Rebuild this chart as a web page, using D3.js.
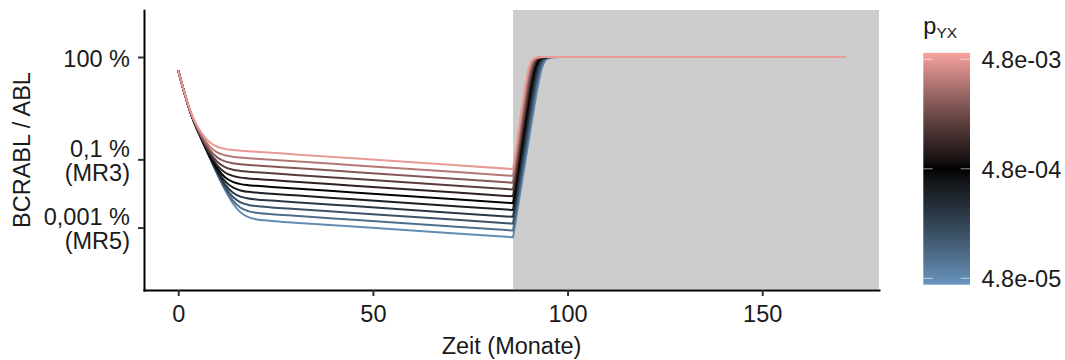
<!DOCTYPE html>
<html>
<head>
<meta charset="utf-8">
<script src="https://cdn.jsdelivr.net/npm/d3@7"></script>
<style>
  html, body { margin: 0; padding: 0; background: #ffffff; }
  svg { display: block; font-family: "Liberation Sans", Arial, Helvetica, sans-serif; }
</style>
</head>
<body>
<svg id="chart" width="1065" height="360"></svg>
<script>
// Time points (months) at which the BCR-ABL/ABL ratio is given
const months = [0, 1, 2, 3, 4, 6, 8, 10, 12, 14, 16, 18, 20, 24, 30, 45, 86,
                87, 88, 89, 90, 91, 92, 93, 94, 95, 96, 98, 171.5];

// Parameter value of each trajectory
const pYX = [4.8e-5, 7.6e-5, 1.2e-4, 1.9e-4, 3.0e-4, 4.8e-4, 7.6e-4, 1.2e-3, 1.9e-3, 3.0e-3, 4.8e-3];

// BCR-ABL / ABL in percent, one array per pYX value
const pct_p01 = [40.6, 15.2, 6.10, 2.62, 1.285, 0.3824, 0.1181, 0.03746, 0.01276, 0.005167, 0.002790, 0.002029, 0.001754, 0.001564, 0.001394, 0.001070, 0.0005185,
                 0.002636, 0.01340, 0.06808, 0.3447, 1.727, 8.20, 31.2, 69.8, 92.1, 98.35, 99.94, 100];
const pct_p02 = [40.6, 15.2, 6.10, 2.62, 1.285, 0.3824, 0.1193, 0.03862, 0.01389, 0.006246, 0.003823, 0.003036, 0.002725, 0.002470, 0.002209, 0.001696, 0.0008218,
                 0.004266, 0.02213, 0.1144, 0.5907, 2.991, 13.79, 45.33, 81.1, 95.7, 99.14, 99.97, 100];
const pct_p03 = [40.6, 15.2, 6.10, 2.62, 1.285, 0.3850, 0.1213, 0.04050, 0.01564, 0.007970, 0.005491, 0.004620, 0.004275, 0.003902, 0.003501, 0.002688, 0.001302,
                 0.006898, 0.03650, 0.1927, 1.0115, 5.131, 22.25, 60.23, 88.9, 97.7, 99.56, 99.99, 100];
const pct_p04 = [40.6, 15.2, 6.10, 2.62, 1.294, 0.3876, 0.1242, 0.04348, 0.01846, 0.01070, 0.008079, 0.007152, 0.006706, 0.006183, 0.005548, 0.004260, 0.002064,
                 0.01115, 0.06022, 0.3241, 1.726, 8.666, 33.88, 73.45, 93.73, 98.78, 99.77, 99.99, 100];
const pct_p05 = [40.6, 15.2, 6.10, 2.62, 1.298, 0.3929, 0.1289, 0.04797, 0.02293, 0.01502, 0.01225, 0.01115, 0.01059, 0.009799, 0.008794, 0.006752, 0.003271,
                 0.01804, 0.0993, 0.5450, 2.930, 14.26, 47.82, 83.47, 96.53, 99.35, 99.88, 100, 100];
const pct_p06 = [40.6, 15.2, 6.10, 2.63, 1.307, 0.4009, 0.1366, 0.05528, 0.02996, 0.02186, 0.01877, 0.01748, 0.01673, 0.01553, 0.01394, 0.01070, 0.005185,
                 0.02917, 0.1638, 0.9141, 4.931, 22.58, 62.13, 90.22, 98.11, 99.66, 99.94, 100, 100];
const pct_p07 = [40.6, 15.2, 6.10, 2.65, 1.320, 0.4147, 0.1486, 0.06683, 0.04119, 0.03271, 0.02915, 0.02753, 0.02643, 0.02461, 0.02209, 0.01696, 0.008218,
                 0.04718, 0.2701, 1.530, 8.190, 33.85, 74.6, 94.4, 98.98, 99.82, 99.97, 100, 100];
const pct_p08 = [40.6, 15.2, 6.14, 2.67, 1.338, 0.4318, 0.1673, 0.08531, 0.05917, 0.04979, 0.04574, 0.04348, 0.04175, 0.03902, 0.03501, 0.02688, 0.01302,
                 0.07624, 0.4448, 2.550, 13.29, 47.30, 84.0, 96.85, 99.45, 99.9, 100, 100, 100];
const pct_p09 = [40.6, 15.2, 6.18, 2.71, 1.374, 0.4651, 0.1975, 0.1145, 0.08706, 0.07704, 0.07176, 0.06867, 0.06615, 0.06183, 0.05548, 0.04260, 0.02064,
                 0.1233, 0.7321, 4.221, 20.85, 61.15, 90.39, 98.25, 99.70, 99.95, 100, 100, 100];
const pct_p10 = [40.6, 15.3, 6.27, 2.76, 1.422, 0.5149, 0.2453, 0.1607, 0.1320, 0.1200, 0.1129, 0.1085, 0.1049, 0.09799, 0.08794, 0.06752, 0.03271,
                 0.1992, 1.203, 6.911, 31.16, 73.41, 94.39, 99.04, 99.84, 99.97, 100, 100, 100];
const pct_p11 = [40.6, 15.4, 6.33, 2.84, 1.506, 0.5916, 0.3205, 0.2339, 0.2022, 0.1884, 0.1790, 0.1719, 0.1662, 0.1553, 0.1394, 0.1070, 0.05185,
                 0.3219, 1.970, 11.11, 43.76, 82.88, 96.79, 99.47, 99.91, 99.99, 100, 100, 100];

const seriesValues = [pct_p01, pct_p02, pct_p03, pct_p04, pct_p05, pct_p06,
                      pct_p07, pct_p08, pct_p09, pct_p10, pct_p11];

// Axis ticks and labels
const xTicks = [0, 50, 100, 150];
const yTicks = [100, 0.1, 0.001];
const yTickLabels = [["100 %"], ["0,1 %", "(MR3)"], ["0,001 %", "(MR5)"]];
const legendBreaks = [4.8e-5, 4.8e-4, 4.8e-3];
const legendLabels = ["4.8e-05", "4.8e-04", "4.8e-03"];
const colourLimits = [4.2e-5, 4.8e-4, 5.5e-3];
const treatmentStop = 86;

// ---- layout ----
const svg = d3.select("#chart");
const panel = { left: 144, right: 879, top: 10, bottom: 290 };
const textColour = "#1a1a1a";
const fontSize = 23.5;

const x = d3.scaleLinear().domain([-8.8, 180]).range([panel.left, panel.right]);
// range nudged so the 100 % level lands on a whole pixel row
const y = d3.scaleLog().domain([1.45e-5, 2340]).range([panel.bottom + 0.3, panel.top + 0.3]);

const colour = d3.scaleLog()
  .domain(colourLimits)
  .range(["#6894bd", "#000000", "#f9a3a0"])
  .interpolate(d3.interpolateLab);

// Shaded period after treatment stop
svg.append("rect")
  .attr("x", x(treatmentStop))
  .attr("y", panel.top)
  .attr("width", panel.right - x(treatmentStop))
  .attr("height", panel.bottom - panel.top - 1)
  .attr("fill", "#cccccc");

// Trajectories: on-treatment decline and off-treatment relapse as one path
const line = d3.line()
  .x(d => x(d[0]))
  .y(d => y(d[1]))
  .curve(d3.curveMonotoneX);
const stopIdx = months.indexOf(treatmentStop);

const lines = svg.append("g").attr("fill", "none");
seriesValues.forEach((vals, i) => {
  const pts = months.map((m, k) => [m, vals[k]]);
  const onTreatment = line(pts.slice(0, stopIdx + 1));
  const offTreatment = line(pts.slice(stopIdx)).replace(/^M[^A-Za-z]*/, "");
  lines.append("path")
    .attr("d", onTreatment + offTreatment)
    .attr("stroke", colour(pYX[i]))
    .attr("stroke-width", 2)
    .attr("stroke-linejoin", "round")
    .attr("stroke-linecap", "butt");
});

// ---- axes ----
const xAxis = svg.append("g")
  .attr("transform", `translate(0,${panel.bottom})`)
  .call(d3.axisBottom(x).tickValues(xTicks).tickSize(6).tickSizeOuter(0));
xAxis.select(".domain").attr("stroke", "#000").attr("stroke-width", 2).attr("stroke-linecap", "square");
xAxis.selectAll(".tick line").attr("stroke", "#333").attr("stroke-width", 2);
xAxis.selectAll(".tick text")
  .attr("y", 31.5).attr("dy", null)
  .attr("fill", textColour)
  .style("font-size", fontSize + "px")
  .style("font-family", "'Liberation Sans', Arial, sans-serif");

const yAxis = svg.append("g")
  .attr("transform", `translate(${panel.left},0)`)
  .call(d3.axisLeft(y).tickValues(yTicks).tickSize(6).tickSizeOuter(0).tickFormat(() => ""));
yAxis.select(".domain").attr("stroke", "#000").attr("stroke-width", 2).attr("stroke-linecap", "square");
yAxis.selectAll(".tick line").attr("stroke", "#333").attr("stroke-width", 2);
yAxis.selectAll(".tick text").remove();
yAxis.selectAll(".tick").each(function (d, i) {
  const rows = yTickLabels[i];
  const offsets = rows.length === 1 ? [9.5] : [-3, 21];
  const t = d3.select(this).append("text")
    .attr("text-anchor", "end")
    .attr("fill", textColour)
    .style("font-size", fontSize + "px")
    .style("font-family", "'Liberation Sans', Arial, sans-serif");
  rows.forEach((r, k) => {
    t.append("tspan").attr("x", -14).attr("y", offsets[k]).text(r);
  });
});

// Axis titles
svg.append("text")
  .attr("x", (panel.left + panel.right) / 2)
  .attr("y", 353.5)
  .attr("text-anchor", "middle")
  .attr("fill", textColour)
  .style("font-size", fontSize + "px")
  .text("Zeit (Monate)");

svg.append("text")
  .attr("transform", `translate(29.5,${(panel.top + panel.bottom) / 2}) rotate(-90)`)
  .attr("text-anchor", "middle")
  .attr("fill", textColour)
  .style("font-size", fontSize + "px")
  .text("BCRABL / ABL");

// ---- colour bar legend ----
const legend = { x: 923.3, width: 46.7 };
const legendY = d3.scaleLog().domain([legendBreaks[0], legendBreaks[2]]).range([278.3, 59.3]);

const title = svg.append("text")
  .attr("x", legend.x)
  .attr("y", 33.5)
  .attr("fill", textColour)
  .style("font-size", fontSize + "px");
title.append("tspan").text("p");
title.append("tspan").attr("dy", 4.2).style("font-size", "15.5px").text("YX");

const grad = svg.append("defs").append("linearGradient")
  .attr("id", "pyxGradient")
  .attr("x1", 0).attr("y1", 1).attr("x2", 0).attr("y2", 0);
const logLo = Math.log10(colourLimits[0]);
const logHi = Math.log10(colourLimits[2]);
d3.range(0, 61).forEach(k => {
  const f = k / 60;
  grad.append("stop")
    .attr("offset", f)
    .attr("stop-color", colour(Math.pow(10, logLo + f * (logHi - logLo))));
});

svg.append("rect")
  .attr("x", legend.x)
  .attr("y", legendY(colourLimits[2]))
  .attr("width", legend.width)
  .attr("height", legendY(colourLimits[0]) - legendY(colourLimits[2]))
  .attr("fill", "url(#pyxGradient)");

const ticksG = svg.append("g").attr("stroke", "#ffffff").attr("stroke-opacity", 0.6).attr("stroke-width", 1);
legendBreaks.forEach(b => {
  const yy = legendY(b);
  ticksG.append("line").attr("x1", legend.x).attr("x2", legend.x + 9.4).attr("y1", yy).attr("y2", yy);
  ticksG.append("line").attr("x1", legend.x + legend.width - 9.4).attr("x2", legend.x + legend.width).attr("y1", yy).attr("y2", yy);
});

legendBreaks.forEach((b, i) => {
  svg.append("text")
    .attr("x", 981.5)
    .attr("y", legendY(b) + 9)
    .attr("fill", textColour)
    .style("font-size", fontSize + "px")
    .text(legendLabels[i]);
});
</script>
</body>
</html>
